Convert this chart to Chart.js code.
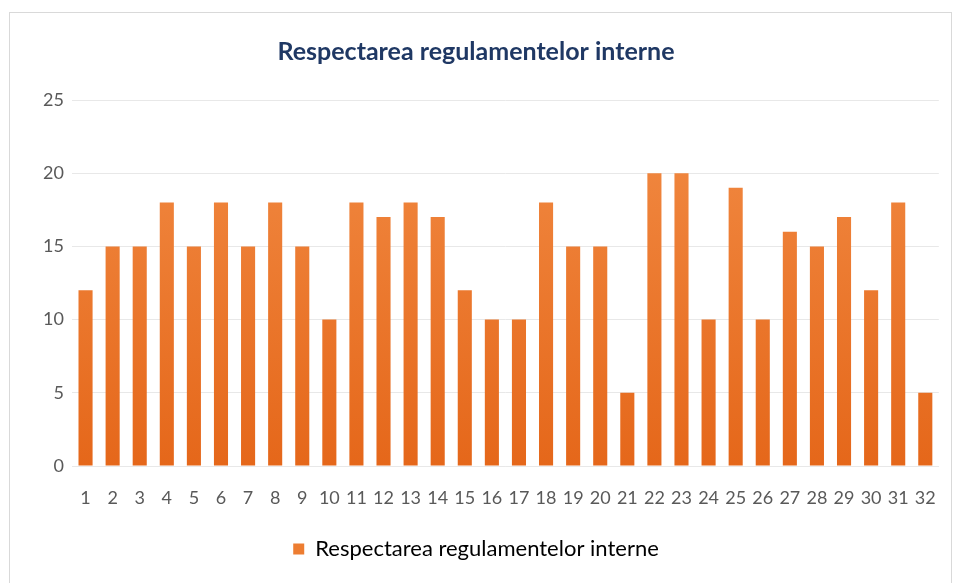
<!DOCTYPE html>
<html>
<head>
<meta charset="utf-8">
<script src="https://cdn.jsdelivr.net/npm/chart.js@4/dist/chart.umd.min.js"></script>
<style>
  html, body { margin: 0; padding: 0; background: #ffffff; }
  #frame { position: absolute; left: 9px; top: 12px; width: 943px; height: 580px; border: 1px solid #d9d9d9; border-bottom: none; box-sizing: border-box; }
  #wrap { position: absolute; left: 0; top: 0; width: 957px; height: 583px; }
</style>
</head>
<body>
<div id="frame"></div>
<div id="wrap"><canvas id="c" width="957" height="583"></canvas></div>
<script>
const categories = ["1","2","3","4","5","6","7","8","9","10","11","12","13","14","15","16","17","18","19","20","21","22","23","24","25","26","27","28","29","30","31","32"];
const seriesName = "Respectarea regulamentelor interne";
const values = [12,15,15,18,15,18,15,18,15,10,18,17,18,17,12,10,10,18,15,15,5,20,20,10,19,10,16,15,17,12,18,5];
const yTicks = [0,5,10,15,20,25];
const chartTitle = "Respectarea regulamentelor interne";

const FONT = "Lato, 'Open Sans', sans-serif";

function barGradient(ctx) {
  const chart = ctx.chart;
  const area = chart.chartArea;
  if (!area) return '#ED7D31';
  const g = chart.ctx.createLinearGradient(0, area.top, 0, area.bottom);
  g.addColorStop(0, '#F28C45');
  g.addColorStop(1, '#E5671A');
  return g;
}

new Chart(document.getElementById('c'), {
  type: 'bar',
  data: {
    labels: categories,
    datasets: [{
      label: seriesName,
      data: values,
      backgroundColor: barGradient,
      borderWidth: 0,
      categoryPercentage: 1.0,
      barPercentage: 0.52
    }]
  },
  options: {
    responsive: false,
    animation: false,
    layout: { padding: { left: 12, right: 17, top: 0, bottom: 13 } },
    plugins: {
      title: {
        display: true,
        text: chartTitle,
        color: '#1F3864',
        font: { family: FONT, size: 25, weight: 'bold' },
        padding: { top: 37, bottom: 33 }
      },
      legend: {
        position: 'bottom',
        labels: {
          color: '#595959',
          font: { family: FONT, size: 22 },
          boxWidth: 11,
          boxHeight: 11,
          padding: 10,
          generateLabels: (chart) => [{
            text: seriesName,
            fillStyle: '#ED7D31',
            strokeStyle: '#ED7D31',
            lineWidth: 0,
            hidden: false,
            datasetIndex: 0
          }]
        }
      },
      tooltip: { enabled: false }
    },
    scales: {
      x: {
        afterFit: (axis) => { axis.height = 62; },
        grid: { display: false, drawTicks: false },
        border: { display: true, color: '#E8E8E8' },
        ticks: { color: '#595959', font: { family: FONT, size: 18 }, padding: 21, maxRotation: 0, autoSkip: false }
      },
      y: {
        min: 0, max: 25,
        afterBuildTicks: (axis) => { axis.ticks = yTicks.map(v => ({ value: v })); },
        afterFit: (axis) => { axis.width = 60; },
        grid: { color: '#E8E8E8', drawTicks: false },
        border: { display: false },
        ticks: { color: '#595959', font: { family: FONT, size: 18 }, padding: 8 }
      }
    }
  }
});
</script>
</body>
</html>
